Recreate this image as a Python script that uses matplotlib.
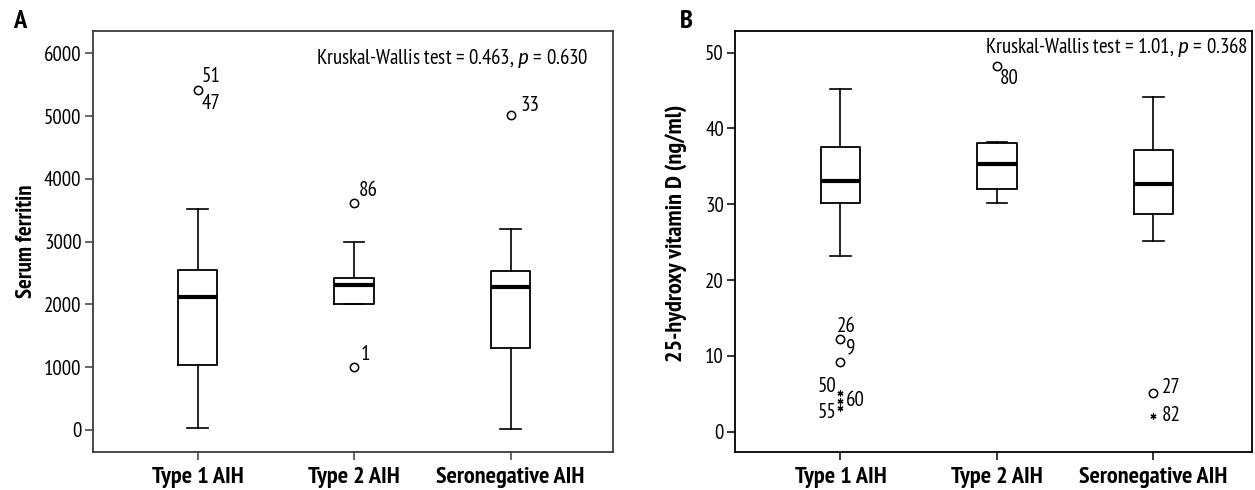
import matplotlib
matplotlib.use("Agg")
import matplotlib.pyplot as plt
from matplotlib import font_manager

# ---------------- data ----------------
categories = ["Type 1 AIH", "Type 2 AIH", "Seronegative AIH"]

# Panel A: serum ferritin
ferr_whislo = [27, 2007, 21]
ferr_q1 = [1035, 2007, 1306]
ferr_med = [2114, 2305, 2273]
ferr_q3 = [2549, 2416, 2538]
ferr_whishi = [3515, 3000, 3207]
ferr_outliers = [[5416], [3611, 999], [5013]]
ferr_labels = [[("51", 10, 10), ("47", 10, -10)],
               [("86", 10, 9), ("1", 8, 9)],
               [("33", 14, 7)]]
ferr_ticks = [0, 1000, 2000, 3000, 4000, 5000, 6000]
ferr_test = "Kruskal-Wallis test = 0.463, $p$ = 0.630"

# Panel B: 25-hydroxy vitamin D
vitd_whislo = [23.2, 30.1, 25.1]
vitd_q1 = [30.1, 32.0, 28.7]
vitd_med = [33.1, 35.25, 32.7]
vitd_q3 = [37.6, 38.06, 37.1]
vitd_whishi = [45.15, 38.2, 44.1]
vitd_circles = [[12.2, 9.2], [48.2], [5.1]]
vitd_extremes = [[5.1, 4.1, 3.1], [], [2.1]]
vitd_circle_labels = [[("26", 4, 9), ("9", 7, -6)], [("80", 9, -9)], [("27", 13, 4)]]
vitd_extreme_labels = [[("50", -10, 5), ("60", 11, 0), ("55", -10, -3)], [], [("82", 13, 0)]]
vitd_ticks = [0, 10, 20, 30, 40, 50]
vitd_test = "Kruskal-Wallis test = 1.01, $p$ = 0.368"

# ---------------- style ----------------
fonts = font_manager.fontManager.ttflist
avail = {f.name for f in fonts}
italics = {f.name for f in fonts if f.style == 'italic'}
prefs = ["PT Sans Narrow", "Fira Sans Condensed", "Roboto Condensed", "Archivo Narrow",
         "Liberation Sans Narrow", "Liberation Sans"]
fam = [f for f in prefs if f in avail][:1] + ["DejaVu Sans"]
it_prefs = [fam[0], "Fira Sans Condensed", "Roboto Condensed", "Archivo Narrow", "PT Sans",
            "Liberation Sans", "DejaVu Sans"]
it_fam = [f for f in it_prefs if f in italics][:1] or ["DejaVu Sans"]
plt.rcParams['font.family'] = fam
plt.rcParams['mathtext.fontset'] = 'custom'
plt.rcParams['mathtext.it'] = it_fam[0] + ':italic'
plt.rcParams['mathtext.rm'] = fam[0]

FS = 15
FSB = 17.5
fig = plt.figure(figsize=(12.55, 4.9), dpi=100)
axA = fig.add_axes([92.7 / 1255, (490 - 451.7) / 490, (613 - 92.7) / 1255, (451.7 - 31) / 490])
axB = fig.add_axes([735 / 1255, (490 - 451.7) / 490, (1252 - 735) / 1255, (451.7 - 31) / 490])

positions = [1, 2, 3]


def draw(ax, whislo, q1, med, q3, whishi, spine_color):
    stats = []
    for i in range(len(categories)):
        stats.append(dict(whislo=whislo[i], q1=q1[i], med=med[i], q3=q3[i],
                          whishi=whishi[i], fliers=[]))
    ax.bxp(stats, positions=positions, widths=0.25, showfliers=False,
           boxprops=dict(color='black', linewidth=1.3),
           whiskerprops=dict(color='black', linewidth=1.2),
           capprops=dict(color='black', linewidth=1.2),
           medianprops=dict(color='black', linewidth=3.0),
           capwidths=0.13)
    for s in ax.spines.values():
        s.set_color(spine_color)
        s.set_linewidth(1.3)
    ax.tick_params(axis='both', length=6, width=1.1, color=spine_color)
    ax.tick_params(axis='x', pad=5, labelsize=FSB)
    ax.tick_params(axis='y', pad=2, labelsize=FS)
    ax.set_xticks(positions)
    ax.set_xticklabels(categories, fontsize=FSB, fontweight='bold')


# Panel A
draw(axA, ferr_whislo, ferr_q1, ferr_med, ferr_q3, ferr_whishi, '#3c3c3c')
for i, outs in enumerate(ferr_outliers):
    axA.plot([positions[i]] * len(outs), outs, 'o', mfc='white', mec='black', ms=6, mew=1.1)
for i, labs in enumerate(ferr_labels):
    for j, (t, dx, dy) in enumerate(labs):
        yv = ferr_outliers[i][0] if i != 1 else ferr_outliers[i][j]
        axA.annotate(t, (positions[i], yv), xytext=(dx, dy), textcoords='offset points',
                     ha='center', va='center', fontsize=FS)
axA.set_ylim(-346, 6355)
axA.set_xlim(0.33, 3.655)
axA.set_yticks(ferr_ticks)
axA.set_ylabel("Serum ferritin", fontsize=16.5, fontweight='bold', labelpad=5)
axA.text(0.953, 0.935, ferr_test, transform=axA.transAxes, ha='right', va='center', fontsize=FS)
fig.text(20 / 1255, 1 - 22 / 490, "A", fontsize=19, fontweight='bold', ha='center', va='center')

# Panel B
draw(axB, vitd_whislo, vitd_q1, vitd_med, vitd_q3, vitd_whishi, 'black')
for i, vals in enumerate(vitd_circles):
    axB.plot([positions[i]] * len(vals), vals, 'o', mfc='white', mec='black', ms=6, mew=1.1)
    for (t, dx, dy) in vitd_circle_labels[i]:
        axB.annotate(t, (positions[i], vals[0]), xytext=(dx, dy), textcoords='offset points',
                     ha='center', va='center', fontsize=FS)
for i, vals in enumerate(vitd_extremes):
    if vals:
        axB.plot([positions[i]] * len(vals), vals, marker=(6, 2, 0), ls='none', color='black',
                 ms=4.2, mew=0.9)
    for (t, dx, dy), v in zip(vitd_extreme_labels[i], vals):
        axB.annotate(t, (positions[i], v), xytext=(dx, dy), textcoords='offset points',
                     ha='center', va='center', fontsize=FS)
axB.set_ylim(-2.64, 52.85)
axB.set_xlim(0.326, 3.63)
axB.set_yticks(vitd_ticks)
axB.set_ylabel("25-hydroxy vitamin D (ng/ml)", fontsize=17.5, fontweight='bold', labelpad=5)
axB.yaxis.set_label_coords(-0.092, 0.52)
axB.text(0.993, 0.96, vitd_test, transform=axB.transAxes, ha='right', va='center', fontsize=FS)
fig.text(686 / 1255, 1 - 22 / 490, "B", fontsize=19, fontweight='bold', ha='center', va='center')

fig.savefig("out.png", dpi=100)
